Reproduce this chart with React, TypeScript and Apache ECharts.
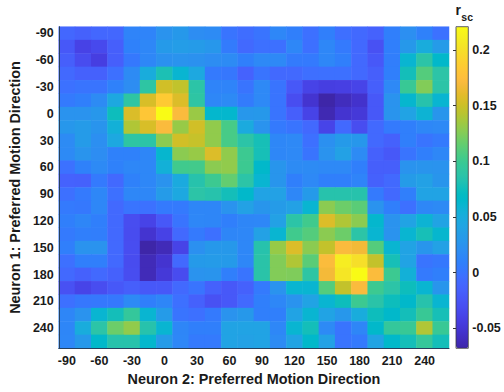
import React, { useEffect, useRef } from "react";
import * as echarts from "echarts";

// Preferred motion direction categories (degrees), neuron 2 (x) and neuron 1 (y)
const xDirections = ["-90", "-75", "-60", "-45", "-30", "-15", "0", "15", "30", "45", "60", "75", "90", "105", "120", "135", "150", "165", "180", "195", "210", "225", "240", "255"];
const yDirections = ["-90", "-75", "-60", "-45", "-30", "-15", "0", "15", "30", "45", "60", "75", "90", "105", "120", "135", "150", "165", "180", "195", "210", "225", "240", "255"];

// Colour scale limits and colorbar tick labels
const rscMin = -0.068;
const rscMax = 0.221;
const colorbarTicks = [-0.05, 0, 0.05, 0.1, 0.15, 0.2];

// r_sc values, one row per neuron-1 direction (top to bottom), columns = neuron-2 direction
const rsc: number[][] = [
  [-0.01, -0.015, -0.01, -0.01, 0.012, 0.012, 0.025, 0.03, 0.02, 0.018, 0.0, -0.005, 0.0, 0.015, 0.008, -0.003, 0.008, -0.004, -0.008, -0.014, 0.008, 0.022, 0.01, -0.002],
  [-0.022, -0.04, -0.034, -0.017, 0.01, 0.015, 0.032, 0.035, 0.033, 0.028, 0.005, -0.008, -0.003, -0.003, 0.015, -0.003, 0.015, 0.004, -0.008, -0.028, 0.008, 0.03, 0.05, 0.033],
  [-0.017, -0.032, -0.043, -0.017, 0.003, 0.015, 0.024, 0.025, 0.024, 0.02, 0.018, 0.008, 0.016, 0.016, 0.005, 0.004, 0.015, 0.008, -0.008, -0.022, 0.007, 0.06, 0.088, 0.065],
  [-0.008, -0.015, -0.015, -0.003, 0.018, 0.05, 0.08, 0.06, 0.045, 0.004, 0.002, -0.014, 0.0, -0.008, -0.008, -0.004, -0.003, -0.003, -0.008, -0.017, 0.008, 0.077, 0.11, 0.088],
  [-0.002, 0.0, 0.0, 0.01, 0.02, 0.09, 0.152, 0.146, 0.088, 0.012, 0.012, 0.0, 0.016, 0.0, -0.022, -0.039, -0.043, -0.042, -0.038, -0.017, 0.016, 0.098, 0.125, 0.088],
  [0.004, 0.008, 0.018, 0.045, 0.09, 0.155, 0.185, 0.157, 0.09, 0.015, 0.017, 0.005, 0.016, 0.0, -0.031, -0.052, -0.068, -0.06, -0.054, -0.022, 0.025, 0.062, 0.085, 0.06],
  [0.025, 0.025, 0.028, 0.075, 0.156, 0.182, 0.221, 0.172, 0.133, 0.063, 0.063, 0.028, 0.03, 0.0, -0.017, -0.039, -0.064, -0.052, -0.048, -0.022, 0.026, 0.04, 0.058, 0.027],
  [0.028, 0.033, 0.026, 0.055, 0.14, 0.155, 0.172, 0.132, 0.152, 0.13, 0.105, 0.048, 0.025, 0.004, 0.0, -0.008, -0.038, -0.008, -0.031, -0.008, 0.004, 0.008, 0.015, 0.016],
  [0.018, 0.033, 0.022, 0.045, 0.09, 0.088, 0.128, 0.152, 0.148, 0.13, 0.105, 0.088, 0.078, 0.015, 0.016, -0.003, 0.023, 0.032, 0.028, -0.008, -0.015, 0.008, 0.0, 0.004],
  [0.017, 0.026, 0.02, 0.01, 0.01, 0.014, 0.062, 0.128, 0.132, 0.157, 0.13, 0.1, 0.078, 0.015, 0.016, 0.0, 0.025, 0.038, 0.018, -0.015, -0.022, 0.0, 0.008, 0.015],
  [-0.002, 0.01, 0.017, 0.01, 0.015, 0.015, 0.055, 0.102, 0.103, 0.128, 0.13, 0.1, 0.065, 0.027, 0.018, 0.018, 0.016, 0.016, 0.008, -0.017, -0.017, 0.025, 0.026, 0.025],
  [-0.014, -0.015, 0.004, -0.008, 0.01, 0.015, 0.025, 0.048, 0.085, 0.1, 0.115, 0.088, 0.06, 0.027, 0.008, 0.016, 0.008, 0.008, 0.012, -0.015, -0.008, 0.033, 0.038, 0.027],
  [-0.003, 0.004, 0.015, -0.003, 0.015, 0.015, 0.033, 0.045, 0.088, 0.085, 0.077, 0.065, 0.04, 0.038, 0.015, 0.032, 0.085, 0.085, 0.085, 0.004, -0.008, 0.008, 0.04, 0.04],
  [0.004, 0.003, 0.015, -0.008, 0.0, -0.002, 0.004, 0.004, 0.014, 0.014, 0.025, 0.038, 0.027, 0.033, 0.038, 0.06, 0.128, 0.118, 0.112, 0.025, 0.008, -0.003, 0.015, 0.017],
  [0.008, 0.014, 0.008, -0.008, -0.031, -0.039, -0.022, 0.0, 0.015, 0.014, 0.008, 0.014, 0.015, 0.038, 0.088, 0.102, 0.157, 0.14, 0.128, 0.063, 0.025, 0.04, 0.058, 0.04],
  [0.004, 0.008, 0.007, -0.008, -0.032, -0.052, -0.04, -0.008, 0.004, -0.003, 0.014, 0.015, 0.038, 0.06, 0.102, 0.11, 0.128, 0.118, 0.088, 0.06, 0.025, 0.06, 0.078, 0.062],
  [0.008, 0.025, 0.025, -0.008, -0.031, -0.068, -0.062, -0.039, 0.023, 0.03, 0.03, 0.015, 0.085, 0.132, 0.157, 0.128, 0.147, 0.172, 0.167, 0.11, 0.06, 0.04, 0.027, 0.038],
  [-0.003, 0.008, 0.008, -0.008, -0.032, -0.062, -0.052, -0.008, 0.032, 0.033, 0.032, 0.015, 0.087, 0.125, 0.14, 0.112, 0.173, 0.21, 0.2, 0.147, 0.078, 0.04, 0.0, 0.003],
  [-0.008, -0.015, -0.008, -0.015, -0.031, -0.062, -0.048, -0.032, 0.025, 0.026, 0.008, 0.0, 0.087, 0.125, 0.124, 0.09, 0.168, 0.205, 0.221, 0.173, 0.1, 0.055, 0.004, 0.008],
  [-0.028, -0.038, -0.031, -0.022, -0.017, -0.022, -0.022, -0.008, 0.0, -0.015, -0.022, -0.015, 0.004, 0.025, 0.06, 0.06, 0.11, 0.147, 0.172, 0.1, 0.088, 0.075, 0.06, 0.027],
  [-0.003, 0.002, 0.003, 0.003, 0.017, 0.008, 0.014, -0.003, -0.015, -0.028, -0.022, -0.008, 0.008, 0.015, 0.025, 0.04, 0.06, 0.075, 0.1, 0.087, 0.075, 0.065, 0.085, 0.06],
  [0.014, 0.025, 0.06, 0.077, 0.095, 0.06, 0.033, 0.0, -0.003, 0.004, 0.025, 0.03, 0.008, 0.008, 0.04, 0.06, 0.04, 0.028, 0.05, 0.075, 0.065, 0.077, 0.098, 0.078],
  [0.014, 0.05, 0.088, 0.118, 0.13, 0.085, 0.06, 0.014, 0.008, 0.008, 0.04, 0.04, 0.04, 0.015, 0.06, 0.077, 0.017, 0.0, 0.014, 0.065, 0.095, 0.098, 0.14, 0.098],
  [0.015, 0.03, 0.065, 0.085, 0.085, 0.063, 0.033, 0.015, 0.004, 0.004, 0.04, 0.038, 0.04, 0.018, 0.04, 0.065, 0.038, 0.0, 0.004, 0.04, 0.065, 0.077, 0.095, 0.077],
];

// MATLAB "parula" colormap (64 entries)
const parulaRGB = [
  [0.2422, 0.1504, 0.6603], [0.2504, 0.165, 0.7076], [0.2578, 0.1818, 0.7511], [0.2647, 0.1978, 0.7952],
  [0.2706, 0.2147, 0.8364], [0.2751, 0.2342, 0.871], [0.2783, 0.2559, 0.8991], [0.2803, 0.2782, 0.9221],
  [0.2813, 0.3006, 0.9414], [0.281, 0.3228, 0.9579], [0.2795, 0.3447, 0.9717], [0.276, 0.3667, 0.9829],
  [0.2699, 0.3892, 0.9906], [0.2602, 0.4123, 0.9952], [0.244, 0.4358, 0.9988], [0.2206, 0.4603, 0.9973],
  [0.1963, 0.4847, 0.9892], [0.1834, 0.5074, 0.9798], [0.1786, 0.5289, 0.9682], [0.1764, 0.5499, 0.952],
  [0.1687, 0.5703, 0.9359], [0.154, 0.5902, 0.9218], [0.146, 0.6091, 0.9079], [0.138, 0.6276, 0.8973],
  [0.1248, 0.6459, 0.8883], [0.1113, 0.6635, 0.8763], [0.0952, 0.6798, 0.8598], [0.0689, 0.6948, 0.8394],
  [0.0297, 0.7082, 0.8163], [0.0036, 0.7203, 0.7917], [0.0067, 0.7312, 0.766], [0.0433, 0.7411, 0.7394],
  [0.0964, 0.75, 0.712], [0.1408, 0.7584, 0.6842], [0.1717, 0.767, 0.6554], [0.1938, 0.7758, 0.6251],
  [0.2161, 0.7843, 0.5923], [0.247, 0.7918, 0.5567], [0.2906, 0.7973, 0.5188], [0.3406, 0.8008, 0.4789],
  [0.3909, 0.8029, 0.4354], [0.4456, 0.8024, 0.3909], [0.5044, 0.7993, 0.348], [0.5616, 0.7942, 0.3045],
  [0.6174, 0.7876, 0.2612], [0.672, 0.7793, 0.2227], [0.7242, 0.7698, 0.191], [0.7738, 0.7598, 0.1646],
  [0.8203, 0.7498, 0.1535], [0.8634, 0.7406, 0.1596], [0.9035, 0.733, 0.1774], [0.9393, 0.7288, 0.21],
  [0.9728, 0.7298, 0.2394], [0.9956, 0.7434, 0.2371], [0.997, 0.7659, 0.2199], [0.9952, 0.7893, 0.2028],
  [0.9892, 0.8136, 0.1885], [0.9786, 0.8386, 0.1766], [0.9676, 0.8639, 0.1643], [0.961, 0.889, 0.1537],
  [0.9597, 0.9135, 0.1423], [0.9628, 0.9373, 0.1265], [0.9691, 0.9606, 0.1064], [0.9769, 0.9839, 0.0805],
];
const toHex = (v: number) => Math.round(v * 255).toString(16).padStart(2, "0");
const parula = parulaRGB.map(([r, g, b]) => "#" + toHex(r) + toHex(g) + toHex(b));

const FONT = "'Liberation Sans', Arial, Helvetica, sans-serif";
const TEXT = "#1a1a1a";

export default function App() {
  const ref = useRef<HTMLDivElement>(null);

  useEffect(() => {
    if (!ref.current) return;
    const chart = echarts.init(ref.current, undefined, { renderer: "svg" });

    const heatData: [number, number, number][] = [];
    rsc.forEach((row, yi) => row.forEach((v, xi) => heatData.push([xi, yi, v])));

    const plot = { left: 48.3, top: 26.7, width: 400.7, height: 321.6 };
    const bar = { left: 456, top: 26.7, width: 12.3, height: 321.6 };

    chart.setOption({
      animation: false,
      backgroundColor: "#ffffff",
      grid: [
        { ...plot },
        { ...bar },
      ],
      xAxis: [
        {
          type: "category",
          gridIndex: 0,
          data: xDirections,
          z: 5,
          name: "Neuron 2: Preferred Motion Direction",
          nameLocation: "middle",
          nameGap: 24,
          nameTextStyle: { fontFamily: FONT, fontWeight: "bold", fontSize: 14.4, color: TEXT },
          axisLine: { show: true, lineStyle: { color: "#26405e", width: 1 } },
          axisTick: { show: false },
          splitLine: { show: false },
          axisLabel: {
            interval: 1,
            margin: 6,
            fontFamily: FONT,
            fontWeight: "bold",
            fontSize: 12.5,
            color: TEXT,
          },
        },
        { type: "value", gridIndex: 1, show: false, min: 0, max: 1 },
      ],
      yAxis: [
        {
          type: "category",
          gridIndex: 0,
          data: yDirections,
          inverse: true,
          z: 5,
          name: "Neuron 1: Preferred Motion Direction",
          nameLocation: "middle",
          nameGap: 34,
          nameRotate: 90,
          nameTextStyle: { fontFamily: FONT, fontWeight: "bold", fontSize: 14.4, color: TEXT },
          axisLine: { show: true, lineStyle: { color: "#26405e", width: 1 } },
          axisTick: { show: false },
          splitLine: { show: false },
          axisLabel: {
            interval: 1,
            margin: 5,
            fontFamily: FONT,
            fontWeight: "bold",
            fontSize: 12.5,
            color: TEXT,
          },
        },
        {
          type: "value",
          gridIndex: 1,
          position: "right",
          min: rscMin,
          max: rscMax,
          z: 6,
          axisLine: { show: false },
          splitLine: { show: false },
          axisTick: {
            show: true,
            inside: true,
            length: 3,
            customValues: colorbarTicks,
            lineStyle: { color: "#333333", width: 1 },
          },
          axisLabel: {
            customValues: colorbarTicks,
            margin: 4,
            fontFamily: FONT,
            fontWeight: "bold",
            fontSize: 12.5,
            color: TEXT,
            formatter: (v: number) => String(v),
          },
        },
      ],
      visualMap: {
        type: "continuous",
        seriesIndex: 0,
        min: rscMin,
        max: rscMax,
        calculable: false,
        hoverLink: false,
        orient: "vertical",
        left: bar.left,
        top: bar.top,
        itemWidth: bar.width,
        itemHeight: bar.height,
        padding: 0,
        inRange: { color: parula },
      },
      graphic: [
        {
          type: "rect",
          z: 10,
          silent: true,
          shape: { x: bar.left, y: bar.top, width: bar.width, height: bar.height },
          style: { fill: "none", stroke: "#3a3a3a", lineWidth: 0.8 },
        },
        {
          type: "text",
          z: 10,
          x: 455.5,
          y: 10,
          style: { text: "r", font: `bold 14px ${FONT}`, fill: TEXT, verticalAlign: "middle", align: "left" },
        },
        {
          type: "text",
          z: 10,
          x: 461.3,
          y: 16.5,
          style: { text: "sc", font: `bold 10.5px ${FONT}`, fill: TEXT, verticalAlign: "middle", align: "left" },
        },
      ],
      series: [
        {
          type: "heatmap",
          xAxisIndex: 0,
          yAxisIndex: 0,
          data: heatData,
          itemStyle: { borderWidth: 0 },
          emphasis: { disabled: true },
          silent: true,
        },
      ],
    });

    return () => chart.dispose();
  }, []);

  return (
    <div
      ref={ref}
      style={{ position: "fixed", left: 0, top: 0, width: 504, height: 392, background: "#fff" }}
    />
  );
}
